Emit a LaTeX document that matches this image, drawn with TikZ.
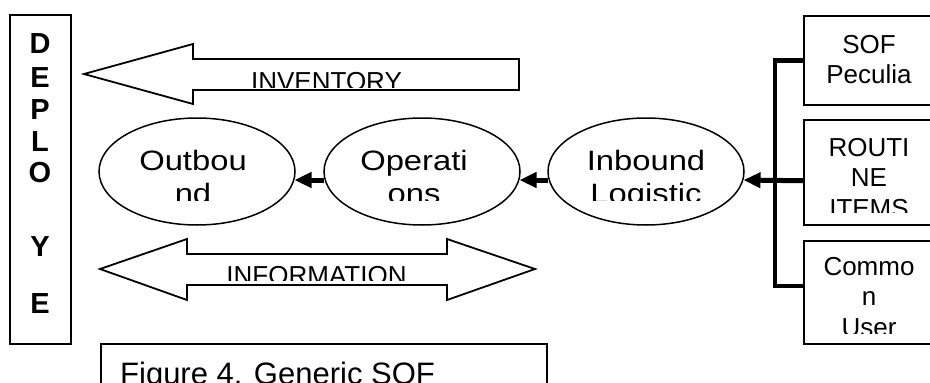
\documentclass[tikz,border=0pt]{standalone}
\usepackage{fontspec}
\setmainfont{Liberation Sans}
\newfontfamily\widefont[FakeStretch=1.17]{Liberation Sans}
\usetikzlibrary{shapes.geometric,arrows.meta}

\begin{document}
\begin{tikzpicture}[x=1pt, y=-1pt,
    stage/.style={ellipse, draw, line width=1.5pt, minimum width=196pt, minimum height=107pt, inner sep=0pt},
    stagetext/.style={anchor=north, inner sep=0pt, align=center, font=\widefont\fontsize{28}{33}\selectfont},
    source/.style={draw, line width=1.5pt, anchor=north west, minimum width=142pt, inner sep=0pt},
    sourcetext/.style={anchor=north, inner sep=0pt, align=center, font=\fontsize{26}{30.5}\selectfont},
    flowtext/.style={anchor=base, inner sep=0pt, font=\fontsize{26}{30}\selectfont},
    letter/.style={anchor=base, inner sep=0pt, font=\fontsize{29}{32}\selectfont\bfseries},
    flow/.style={line width=5pt, -{Triangle[length=17pt, width=15pt]}},
    bus/.style={line width=4.5pt},
    band/.style={draw, line width=1.8pt, line join=miter}]
    \useasboundingbox (0,0) rectangle (930,383);

    % deployment column
    \node[draw, line width=1.5pt, anchor=north west, minimum width=61pt, minimum height=329pt] (deploy) at (9,14) {};
    \foreach \ch/\yy in {D/53, E/87, P/119, L/151, O/182, Y/256, E/313}
        \node[letter] (let\yy) at (40,\yy) {\ch};

    % flows of goods and data
    \draw[band] (84,74) -- (193,44) -- (193,59) -- (519,59) -- (519,90) -- (193,90) -- (193,104) -- cycle;
    \begin{scope}
        \clip (193,59) rectangle (519,87);
        \node[flowtext] (inventory) at (326.5,90.6) {INVENTORY};
    \end{scope}
    \draw[band] (100,269) -- (187,239) -- (187,254) -- (447,254) -- (447,239) -- (535,269) -- (447,300) -- (447,285) -- (187,285) -- (187,300) -- cycle;
    \begin{scope}
        \clip (187,254) rectangle (447,280);
        \node[flowtext] (information) at (316.5,284.6) {INFORMATION};
    \end{scope}

    % value chain
    \node[stage] (outb) at (197,171.5) {};
    \node[stage] (oper) at (422,171.5) {};
    \node[stage] (inb) at (646,171.5) {};
    \begin{scope}
        \clip (100,140) rectangle (745,200);
        \node[stagetext] (outbtxt) at (193,150) {Outbou\\nd};
        \node[stagetext] (opertxt) at (414,150) {Operati\\ons};
        \node[stagetext] (inbtxt) at (646,150) {Inbound\\Logistic};
    \end{scope}
    \draw[flow] (oper.185) -- (outb.-5);
    \draw[flow] (inb.185) -- (oper.-5);

    % supply sources
    \node[source, minimum height=89pt] (sof) at (803,15) {};
    \node[source, minimum height=105pt] (routine) at (803,119) {};
    \node[source, minimum height=103pt] (common) at (803,240) {};
    \node[sourcetext] (softxt) at (869,35) {SOF\\Peculia};
    \begin{scope}
        \clip (805,121) rectangle (928,212);
        \node[sourcetext] (routtxt) at (869,138) {ROUTI\\NE\\ITEMS};
    \end{scope}
    \begin{scope}
        \clip (805,242) rectangle (928,333);
        \node[sourcetext] (commtxt) at (869,257) {Commo\\n\\User};
    \end{scope}
    \coordinate (fork) at (775,180);
    \draw[bus] (sof.west) -| (fork) |- ([yshift=6.5pt]common.west);
    \draw[flow] ([yshift=-8.5pt]routine.west) -- (inb.-5);

    % caption
    \node[draw, line width=1.5pt, anchor=north west, minimum width=446pt, minimum height=60pt] (caption) at (100,343) {};
    \node[anchor=north west, inner sep=0pt, font=\fontsize{31}{36}\selectfont] (captxt) at (120,362) {Figure 4. Generic SOF};
\end{tikzpicture}
\end{document}
